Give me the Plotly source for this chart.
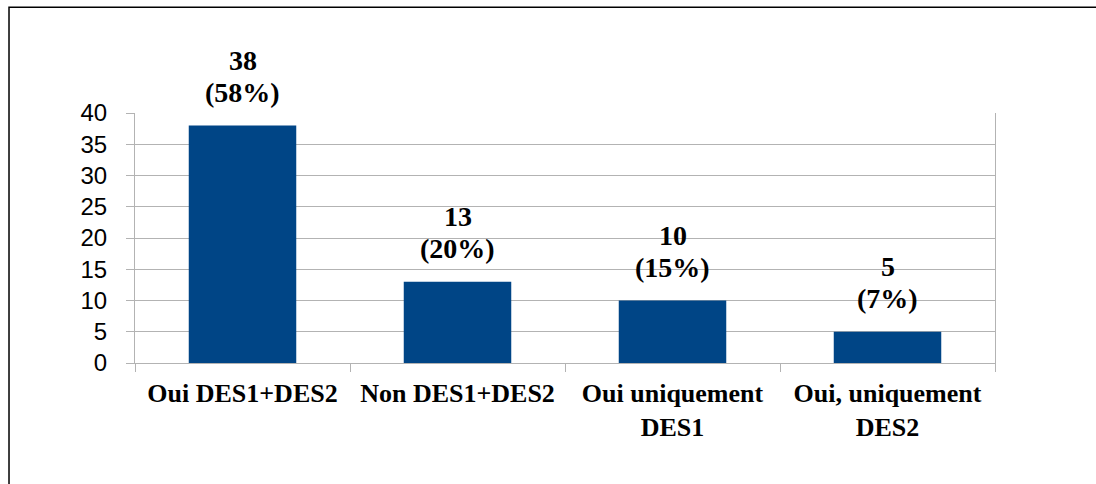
import plotly.graph_objects as go

categories = ["Oui DES1+DES2", "Non DES1+DES2", "Oui uniquement<br>DES1", "Oui, uniquement<br>DES2"]
values = [38, 13, 10, 5]
percent_labels = ["(58%)", "(20%)", "(15%)", "(7%)"]
y_ticks = [0, 5, 10, 15, 20, 25, 30, 35, 40]

BAR = "#004586"
GRID = "#b3b3b3"
SERIF = "Liberation Serif, Times New Roman, serif"
SANS = "Liberation Sans, Arial, sans-serif"

fig = go.Figure(go.Bar(x=categories, y=values, marker=dict(color=BAR, line=dict(width=0)),
                       width=0.5, hoverinfo="skip"))

ann = []
for c, v, p in zip(categories, values, percent_labels):
    ann.append(dict(x=c, y=v, xref="x", yref="y", text=f"<b>{v}</b>", showarrow=False,
                    yanchor="middle", yshift=65, font=dict(family=SERIF, size=28, color="black")))
    ann.append(dict(x=c, y=v, xref="x", yref="y", text=f"<b>{p}</b>", showarrow=False,
                    yanchor="middle", yshift=33, font=dict(family=SERIF, size=28, color="black")))

fig.update_layout(
    width=1096, height=484,
    margin=dict(l=135, r=101, t=112.6, b=120.7),
    paper_bgcolor="white", plot_bgcolor="white",
    showlegend=False,
    annotations=ann,
    shapes=[dict(type="rect", xref="paper", yref="paper", x0=-0.1465, x1=1.2, y0=-0.6, y1=1.4235,
                 line=dict(color="black", width=1.5), fillcolor="rgba(0,0,0,0)", layer="above")],
    xaxis=dict(type="category", tickson="boundaries", ticks="outside", ticklen=8, tickcolor=GRID,
               tickwidth=1, showline=True, linecolor=GRID, linewidth=1, showgrid=False,
               tickfont=dict(family=SERIF, size=26, color="black"),
               ticktext=[f"<b>{c}</b>" for c in categories], tickvals=categories,
               ticklabelstandoff=7, range=[-0.5, 3.5], fixedrange=True),
    yaxis=dict(range=[0, 40], tickvals=y_ticks, ticks="outside", ticklen=8, tickcolor=GRID,
               tickwidth=1, showgrid=True, gridcolor=GRID, gridwidth=1, showline=True,
               linecolor=GRID, linewidth=1, mirror=True, zeroline=False,
               tickfont=dict(family=SANS, size=24, color="black"), ticklabelstandoff=14,
               fixedrange=True),
)

fig.write_html("out.html", config={"displayModeBar": False},
               post_script="document.body.style.margin='0';")
